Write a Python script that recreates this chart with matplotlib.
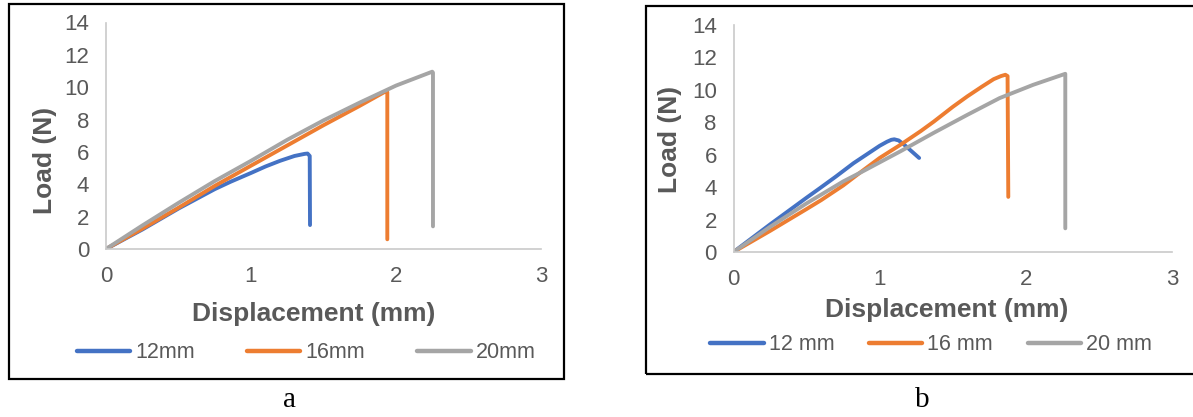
import matplotlib
matplotlib.use("Agg")
import matplotlib.pyplot as plt
from matplotlib.patches import Rectangle

plt.rcParams["font.family"] = ["Liberation Sans", "DejaVu Sans"]

# ---- data ----
SERIES_COLORS = ["#4472C4", "#ED7D31", "#A5A5A5"]
LABELS_A = ["12mm", "16mm", "20mm"]
LABELS_B = ["12 mm", "16 mm", "20 mm"]

# panel a
a_x_12 = [0, 0.25, 0.5, 0.75, 0.86, 1.0, 1.1, 1.2, 1.3, 1.37, 1.39, 1.405, 1.407]
a_y_12 = [0, 1.2, 2.5, 3.7, 4.16, 4.7, 5.1, 5.45, 5.75, 5.88, 5.9, 5.75, 1.48]
a_x_16 = [0, 0.25, 0.5, 0.75, 1.0, 1.25, 1.5, 1.75, 1.93, 1.94, 1.94]
a_y_16 = [0, 1.25, 2.55, 3.9, 5.15, 6.4, 7.65, 8.85, 9.75, 9.7, 0.6]
a_x_20 = [0, 0.25, 0.5, 0.75, 1.0, 1.25, 1.5, 1.75, 2.0, 2.25, 2.255, 2.255]
a_y_20 = [0, 1.45, 2.85, 4.2, 5.45, 6.75, 7.95, 9.05, 10.1, 10.96, 10.9, 1.4]

# panel b
b_x_12 = [0, 0.25, 0.5, 0.59, 0.7, 0.82, 0.93, 1.0, 1.05, 1.08, 1.1, 1.13, 1.17, 1.22, 1.27]
b_y_12 = [0, 1.7, 3.35, 3.93, 4.65, 5.47, 6.13, 6.55, 6.8, 6.92, 6.95, 6.88, 6.6, 6.2, 5.8]
b_x_16 = [0, 0.25, 0.5, 0.6, 0.75, 0.89, 1.0, 1.14, 1.28, 1.37, 1.5, 1.6,
          1.7, 1.78, 1.83, 1.86, 1.875, 1.88]
b_y_16 = [0, 1.3, 2.65, 3.2, 4.1, 5.06, 5.8, 6.6, 7.45, 8.04, 8.95, 9.6,
          10.2, 10.66, 10.85, 10.93, 10.85, 3.4]
b_x_20 = [0, 0.25, 0.5, 0.75, 0.89, 1.14, 1.37, 1.6, 1.82, 2.05, 2.27, 2.27]
b_y_20 = [0, 1.55, 3.0, 4.35, 5.0, 6.2, 7.35, 8.46, 9.49, 10.31, 10.99, 1.46]

X_TICKS = [0, 1, 2, 3]
Y_TICKS = [0, 2, 4, 6, 8, 10, 12, 14]

TXT = "#595959"
AXIS_COL = "#C9C9C9"
W, H = 1193, 417


def px(x, y):
    # pixel (from top-left) -> figure fraction
    return x / W, 1 - y / H


def draw_panel(fig, rect, xs, ys, labels, xlabel_pos, ylabel_pos, leg_pos, colsp):
    ax = fig.add_axes(rect)
    for x, y, c, lab in zip(xs, ys, SERIES_COLORS, labels):
        ax.plot(x, y, color=c, lw=2.8, label=lab,
                solid_capstyle="round", solid_joinstyle="round")
    ax.set_xlim(0, 3)
    ax.set_ylim(0, 14)
    ax.set_xticks(X_TICKS)
    ax.set_yticks(Y_TICKS)
    ax.tick_params(length=0, labelsize=16, labelcolor=TXT, pad=12)
    for s in ["top", "right"]:
        ax.spines[s].set_visible(False)
    for s in ["left", "bottom"]:
        ax.spines[s].set_color(AXIS_COL)
        ax.spines[s].set_linewidth(1.2)
    fx, fy = px(*xlabel_pos)
    fig.text(fx, fy, "Displacement (mm)", ha="center", va="center",
             fontsize=19, fontweight="bold", color=TXT)
    fx, fy = px(*ylabel_pos)
    fig.text(fx, fy, "Load (N)", ha="center", va="center", rotation=90,
             fontsize=19, fontweight="bold", color=TXT)
    fx, fy = px(*leg_pos)
    leg = ax.legend(loc="center", bbox_to_anchor=(fx, fy),
                    bbox_transform=fig.transFigure, ncol=3, frameon=False,
                    fontsize=15.5, handlelength=2.5, handletextpad=0.23,
                    columnspacing=colsp, borderaxespad=0)
    for t in leg.get_texts():
        t.set_color(TXT)
    for h in leg.legend_handles:
        h.set_linewidth(3.2)
    return ax


fig = plt.figure(figsize=(W / 100, H / 100), dpi=100)

# panel a
fig.add_artist(Rectangle(px(8.5, 379), 555.5 / W, 375 / H, transform=fig.transFigure,
                         fill=False, ec="black", lw=1.6))
draw_panel(fig, [106 / W, 1 - 249 / H, 435 / W, 226.5 / H],
           [a_x_12, a_x_16, a_x_20], [a_y_12, a_y_16, a_y_20], LABELS_A,
           (314, 314), (45, 160), (306, 353), 2.4)

# panel b (box runs off the right edge)
fig.add_artist(Rectangle(px(646, 374), 560 / W, 368 / H, transform=fig.transFigure,
                         fill=False, ec="black", lw=1.6))
draw_panel(fig, [733.5 / W, 1 - 252 / H, 438.5 / W, 227 / H],
           [b_x_12, b_x_16, b_x_20], [b_y_12, b_y_16, b_y_20], LABELS_B,
           (947, 310), (670, 139), (931, 345), 1.6)

fx, fy = px(289, 400)
fig.text(fx, fy, "a", ha="center", va="center", fontsize=21,
         family="Liberation Serif", color="black")
fx, fy = px(922, 400)
fig.text(fx, fy, "b", ha="center", va="center", fontsize=21,
         family="Liberation Serif", color="black")

fig.savefig("out.png", dpi=100)
